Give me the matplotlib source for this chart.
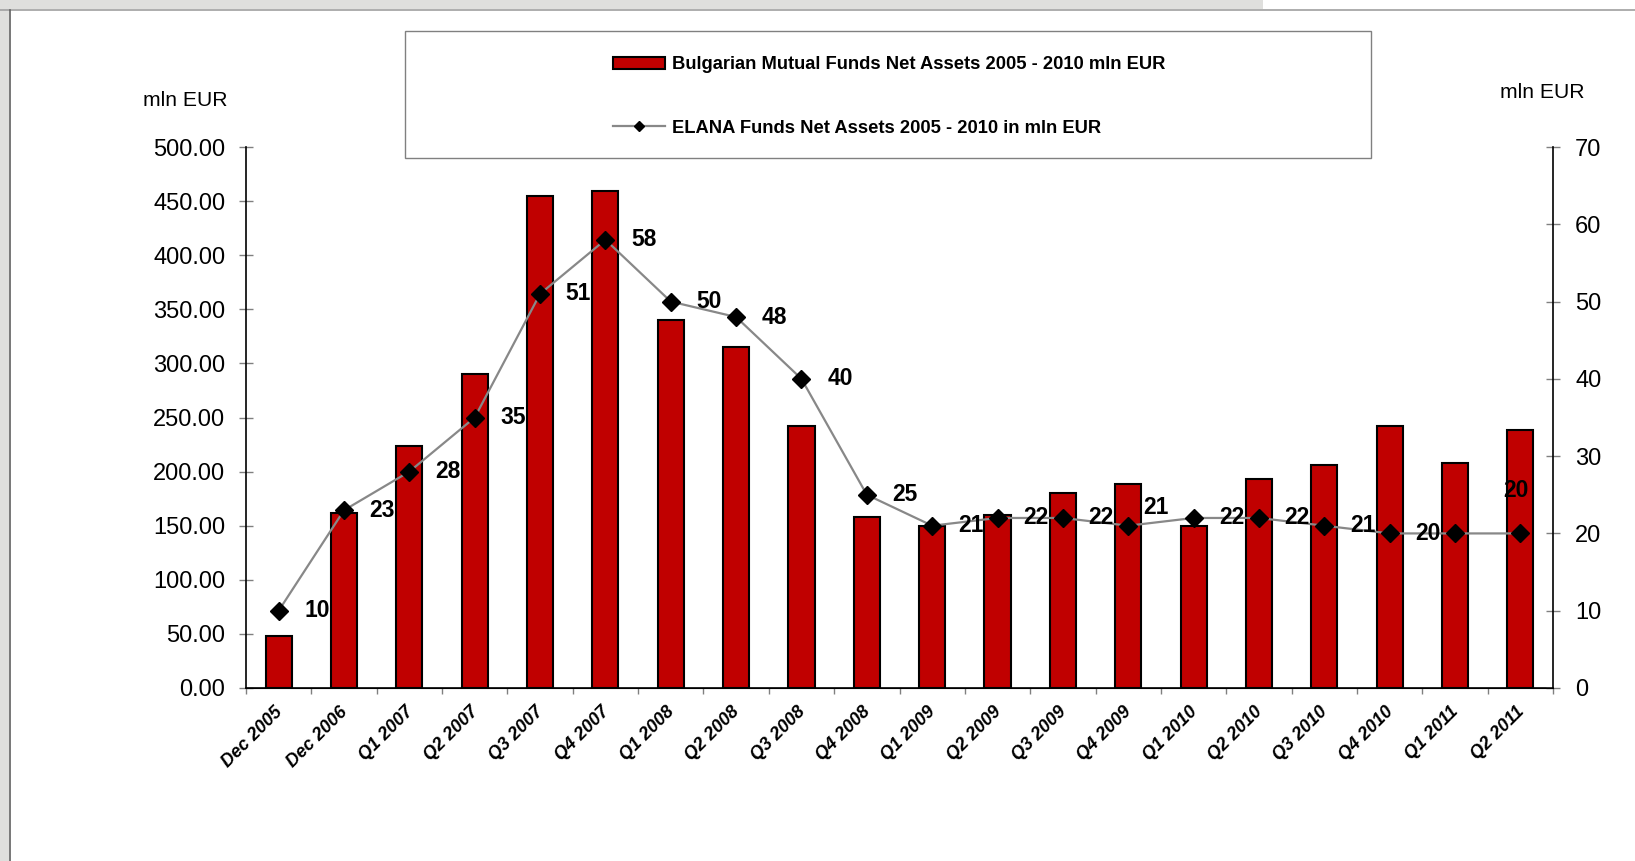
import matplotlib
matplotlib.use("Agg")
import matplotlib.pyplot as plt
import matplotlib.transforms as mtrans
from matplotlib.patches import Rectangle
from matplotlib.lines import Line2D

plt.rcParams['font.family'] = ['Liberation Sans', 'DejaVu Sans']

# ---------------- data ----------------
categories = ["Dec 2005", "Dec 2006", "Q1 2007", "Q2 2007", "Q3 2007", "Q4 2007",
              "Q1 2008", "Q2 2008", "Q3 2008", "Q4 2008", "Q1 2009", "Q2 2009",
              "Q3 2009", "Q4 2009", "Q1 2010", "Q2 2010", "Q3 2010", "Q4 2010",
              "Q1 2011", "Q2 2011"]
mutual_funds = [48, 162, 224, 290, 455, 459, 340, 315.5, 242, 158.5, 150, 160,
                180, 188.5, 150, 193.5, 206, 242.5, 207.5, 238]
elana_funds = [10, 23, 28, 35, 51, 58, 50, 48, 40, 25, 21, 22,
               22, 21, 22, 22, 21, 20, 20, 20]
left_ticks = [0, 50, 100, 150, 200, 250, 300, 350, 400, 450, 500]
right_ticks = [0, 10, 20, 30, 40, 50, 60, 70]
bar_label = "Bulgarian Mutual Funds Net Assets 2005 - 2010 mln EUR"
line_label = "ELANA Funds Net Assets 2005 - 2010 in mln EUR"
unit_label = "mln EUR"

W, H = 1635, 861
fig = plt.figure(figsize=(W / 100, H / 100), dpi=100)
fig.patch.set_facecolor("white")

def fx(px):
    return px / W

def fy(py):
    return 1 - py / H

# window frame (screenshot border)
fig.patches.append(Rectangle((0, 0), fx(9), 1, transform=fig.transFigure,
                             facecolor="#DFDFDD", edgecolor="none", zorder=0))
fig.patches.append(Rectangle((0, fy(9)), fx(1263), 9 / H, transform=fig.transFigure,
                             facecolor="#DFDFDD", edgecolor="none", zorder=0))
fig.lines.append(Line2D([0, 1], [fy(9.5), fy(9.5)], transform=fig.transFigure,
                        color="#A0A0A0", lw=1.2))
fig.lines.append(Line2D([fx(9.5), fx(9.5)], [0, fy(9.5)], transform=fig.transFigure,
                        color="#606060", lw=1.2))

# ---------------- axes ----------------
ax = fig.add_axes([fx(246), fy(688), fx(1553 - 246), (688 - 147) / H])
ax2 = ax.twinx()

x = list(range(len(categories)))
bars = ax.bar(x, mutual_funds, width=0.4, color="#C00000", edgecolor="black",
              linewidth=1.5, zorder=2, label=bar_label)
ax.set_xlim(-0.5, len(categories) - 0.5)
ax.set_ylim(0, 500)
ax.set_yticks(left_ticks)
ax.set_yticklabels([f"{v:.2f}" for v in left_ticks], fontsize=17)
ax.tick_params(axis="y", direction="inout", length=10, width=1, color="#808080",
               pad=10)

ax.set_xticks(x)
ax.set_xticklabels(categories, rotation=45, ha="right", va="top",
                   fontsize=13, fontweight="bold", fontstyle="italic")
ax.tick_params(axis="x", which="major", length=0, pad=11)
ax.set_xticks([i - 0.5 for i in range(len(categories) + 1)], minor=True)
ax.tick_params(axis="x", which="minor", direction="out", length=4, width=1,
               color="#808080")
shift = mtrans.ScaledTranslation(7 / 100, 0, fig.dpi_scale_trans)
for lbl in ax.get_xticklabels():
    lbl.set_transform(lbl.get_transform() + shift)

for side in ["top"]:
    ax.spines[side].set_visible(False)
    ax2.spines[side].set_visible(False)
ax.spines["right"].set_visible(False)
ax.spines["left"].set_linewidth(1.2)
ax.spines["bottom"].set_linewidth(1.2)
ax2.spines["left"].set_visible(False)
ax2.spines["right"].set_linewidth(1.2)

line, = ax2.plot(x, elana_funds, color="#888888", lw=1.6, marker="D",
                 markersize=9, markerfacecolor="black", markeredgecolor="black",
                 zorder=3, label=line_label)
ax2.set_ylim(0, 70)
ax2.set_yticks(right_ticks)
ax2.set_yticklabels([str(v) for v in right_ticks], fontsize=17)
ax2.tick_params(axis="y", direction="inout", length=10, width=1, color="#808080",
                pad=11)

# data labels
for i, v in enumerate(elana_funds):
    if categories[i] == "Q1 2011":
        continue
    if categories[i] == "Q4 2009":
        off, ha = (11, 13), "left"
    elif categories[i] == "Q2 2011":
        off, ha = (-3, 31), "center"
    else:
        off, ha = (18.5, 0), "left"
    ax2.annotate(str(v), (i, v), xytext=off, textcoords="offset points",
                 ha=ha, va="center", fontsize=16.5, fontweight="bold",
                 color="black", zorder=4)

# axis unit labels
fig.text(fx(143), fy(101), unit_label, fontsize=15.2, ha="left", va="center")
fig.text(fx(1500), fy(92), unit_label, fontsize=15.2, ha="left", va="center")

# legend
fig.patches.append(Rectangle((fx(405), fy(158)), fx(1371 - 405), (158 - 31) / H,
                             transform=fig.transFigure, facecolor="white",
                             edgecolor="#808080", lw=1.0, zorder=1))
leg = fig.legend(handles=[bars, line], labels=[bar_label, line_label],
                 loc="center left", bbox_to_anchor=(fx(604), fy(96.5)),
                 frameon=False, prop={"weight": "bold", "size": 13.2},
                 handlelength=2.85, handletextpad=0.35, labelspacing=2.52,
                 borderpad=0, markerscale=0.55)
leg.set_zorder(5)

fig.savefig("out.png", dpi=100, facecolor="white")
